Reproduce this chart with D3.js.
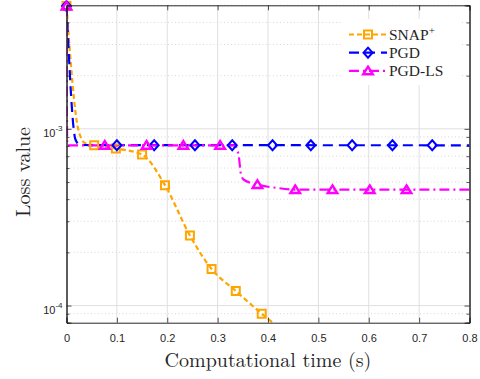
<!DOCTYPE html>
<html>
<head>
<meta charset="utf-8">
<script src="https://cdn.jsdelivr.net/npm/d3@7"></script>
<style>
  body { margin: 0; background: #fff; }
  .tick text { font-family: "Liberation Sans", Arial, sans-serif; fill: #262626; }
  .serif { font-family: "Latin Modern Roman", "CMU Serif", "Liberation Serif", serif; fill: #262626; }
  .legtext { font-family: "Liberation Serif", serif; fill: #262626; }
</style>
</head>
<body>
<svg id="chart" width="480" height="379"></svg>
<script>
// ---- data ----
const xTicks = [0, 0.1, 0.2, 0.3, 0.4, 0.5, 0.6, 0.7, 0.8];
const yMajor = [1e-4, 1e-3];
const yMinor = [9e-5, 2e-4, 3e-4, 4e-4, 5e-4, 6e-4, 7e-4, 8e-4, 9e-4, 2e-3, 3e-3, 4e-3, 5e-3];
const yExp = ["-4", "-3"];

// SNAP+ (line and marker points)
const snapT = [0, 0.0235, 0.037, 0.055, 0.098, 0.15, 0.1955, 0.245, 0.288, 0.336, 0.3875, 0.43];
const snapV = [4.95e-3, 9.9e-4, 8.3e-4, 8.07e-4, 7.74e-4, 7.15e-4, 4.8e-4, 2.49e-4, 1.61e-4, 1.21e-4, 9.0e-5, 7.2e-5];
const snapMkT = [0, 0.055, 0.098, 0.15, 0.1955, 0.245, 0.288, 0.336, 0.3875];
const snapMkV = [4.95e-3, 8.07e-4, 7.74e-4, 7.15e-4, 4.8e-4, 2.49e-4, 1.61e-4, 1.21e-4, 9.0e-5];

// PGD
const pgdT = [0, 0.0178, 0.027, 0.8];
const pgdV = [4.95e-3, 8.7e-4, 8.1e-4, 8.07e-4];
const pgdMkT = [0, 0.1, 0.174, 0.255, 0.329, 0.409, 0.485, 0.567, 0.647, 0.726];
const pgdMkV = [4.95e-3, 8.07e-4, 8.07e-4, 8.07e-4, 8.07e-4, 8.07e-4, 8.07e-4, 8.07e-4, 8.07e-4, 8.07e-4];

// PGD-LS
const lsT = [0, 0.0015, 0.334, 0.342, 0.346, 0.352, 0.379, 0.42, 0.454, 0.8];
const lsV = [4.95e-3, 8.07e-4, 8.07e-4, 7.0e-4, 5.6e-4, 5.15e-4, 4.84e-4, 4.62e-4, 4.53e-4, 4.53e-4];
const lsMkT = [0, 0.076, 0.159, 0.232, 0.305, 0.379, 0.454, 0.528, 0.602, 0.675];
const lsMkV = [4.95e-3, 8.07e-4, 8.07e-4, 8.07e-4, 8.07e-4, 4.84e-4, 4.53e-4, 4.53e-4, 4.53e-4, 4.53e-4];

const seriesNames = ["SNAP", "PGD", "PGD-LS"];

// ---- layout ----
const margin = {top: 5.3, right: 10.5, bottom: 56.3, left: 66.5};
const W = 480, H = 379;
const width = W - margin.left - margin.right;
const height = H - margin.top - margin.bottom;

const x = d3.scaleLinear().domain([0, 0.8]).range([0, width]);
const y = d3.scaleLog().domain([8e-5, 5e-3]).range([height, 0]);

const svg = d3.select("#chart");
const g = svg.append("g").attr("transform", "translate(" + margin.left + "," + margin.top + ")");

svg.append("defs").append("clipPath").attr("id", "plotclip")
  .append("rect").attr("width", width).attr("height", height);

// grid
const grid = g.append("g");
grid.selectAll(".vg").data(xTicks.slice(1, -1)).enter().append("line")
  .attr("x1", d => x(d)).attr("x2", d => x(d))
  .attr("y1", 0).attr("y2", height)
  .attr("stroke", "#dfdfdf").attr("stroke-width", 1);
grid.selectAll(".mg").data(yMinor).enter().append("line")
  .attr("x1", 0).attr("x2", width)
  .attr("y1", d => y(d)).attr("y2", d => y(d))
  .attr("stroke", "#cfcfcf").attr("stroke-width", 0.8)
  .attr("stroke-dasharray", "1,2.5");
grid.selectAll(".hg").data(yMajor).enter().append("line")
  .attr("x1", 0).attr("x2", width)
  .attr("y1", d => y(d)).attr("y2", d => y(d))
  .attr("stroke", "#dfdfdf").attr("stroke-width", 1);

// marker shapes
function markerPath(type) {
  if (type === "square") return "M-4,-4H4V4H-4Z";
  if (type === "diamond") return "M0,-5L4.5,0L0,5L-4.5,0Z";
  return "M0,-4.2L4.8,3.4H-4.8Z";
}

const series = [
  {t: snapT, v: snapV, mt: snapMkT, mv: snapMkV, color: "#ffa500", dash: "5,3", marker: "square"},
  {t: pgdT, v: pgdV, mt: pgdMkT, mv: pgdMkV, color: "#0000ff", dash: "10,6", marker: "diamond"},
  {t: lsT, v: lsV, mt: lsMkT, mv: lsMkV, color: "#ff00ff", dash: "10,4,2,4", marker: "triangle"}
];

const line = d3.line()
  .x(d => x(d[0]))
  .y(d => y(d[1]))
  .curve(d3.curveMonotoneX);

const plot = g.append("g").attr("clip-path", "url(#plotclip)");
series.forEach(s => {
  const pts = s.t.map((t, i) => [t, s.v[i]]);
  plot.append("path")
    .attr("d", line(pts))
    .attr("fill", "none")
    .attr("stroke", s.color)
    .attr("stroke-width", 2.2)
    .attr("stroke-dasharray", s.dash);
  const mk = s.mt.map((t, i) => [t, s.mv[i]]);
  g.append("g").selectAll("path").data(mk).enter().append("path")
    .attr("transform", d => "translate(" + x(d[0]) + "," + y(d[1]) + ")")
    .attr("d", markerPath(s.marker))
    .attr("fill", "none")
    .attr("stroke", s.color)
    .attr("stroke-width", s.marker === "triangle" ? 2.4 : 2);
});

// axes
const axisColor = "#262626";
const xAxis = g.append("g").attr("transform", "translate(0," + height + ")")
  .call(d3.axisBottom(x).tickValues(xTicks).tickSize(-5).tickPadding(12).tickFormat(d => d === 0 ? "0" : d3.format(".1f")(d)));
xAxis.selectAll("text").style("font-size", "11px");

g.append("g")
  .call(d3.axisTop(x).tickValues(xTicks).tickSize(-5).tickFormat(""));

const yAxis = g.append("g")
  .call(d3.axisLeft(y).tickValues(yMajor).tickSize(-5).tickPadding(4).tickFormat(""));
yAxis.selectAll(".tick text").each(function(d, i) {
  const t = d3.select(this).attr("dy", null).attr("y", 8).attr("x", -4);
  t.append("tspan").text("10").style("font-size", "11px");
  t.append("tspan").text(yExp[i]).attr("dy", -6).style("font-size", "8px");
});
g.append("g")
  .call(d3.axisLeft(y).tickValues(yMinor).tickSize(-3).tickFormat(""));
g.append("g").attr("transform", "translate(" + width + ",0)")
  .call(d3.axisRight(y).tickValues(yMajor).tickSize(-5).tickFormat(""));
g.append("g").attr("transform", "translate(" + width + ",0)")
  .call(d3.axisRight(y).tickValues(yMinor).tickSize(-3).tickFormat(""));

g.selectAll(".domain").attr("stroke", axisColor).attr("stroke-width", 1);
g.selectAll(".tick line").attr("stroke", axisColor).attr("stroke-width", 0.8);

// axis labels
svg.append("text").attr("class", "serif")
  .attr("x", margin.left + width / 2).attr("y", 366.5)
  .attr("text-anchor", "middle").style("font-size", "20px")
  .text("Computational time (s)");
svg.append("text").attr("class", "serif")
  .attr("transform", "translate(29.5,172) rotate(-90)")
  .attr("text-anchor", "middle").style("font-size", "20px")
  .text("Loss value");

// legend
const legend = svg.append("g");
legend.append("rect").attr("x", 341).attr("y", 19).attr("width", 120).attr("height", 66).attr("fill", "#fff");
series.forEach((s, i) => {
  const ly = 34.5 + i * 18.2;
  const row = legend.append("g");
  row.append("line").attr("x1", 349).attr("x2", 387).attr("y1", ly).attr("y2", ly)
    .attr("stroke", s.color).attr("stroke-width", 2.2).attr("stroke-dasharray", s.dash);
  row.append("path").attr("transform", "translate(368," + ly + ")")
    .attr("d", markerPath(s.marker)).attr("fill", "none")
    .attr("stroke", s.color).attr("stroke-width", s.marker === "triangle" ? 2.4 : 2);
  const txt = row.append("text").attr("class", "legtext")
    .attr("x", 389).attr("y", ly + 5.5).style("font-size", "15.5px");
  txt.append("tspan").text(seriesNames[i]);
  if (i === 0) txt.append("tspan").text("+").attr("dy", -6).style("font-size", "11px");
});
</script>
</body>
</html>
